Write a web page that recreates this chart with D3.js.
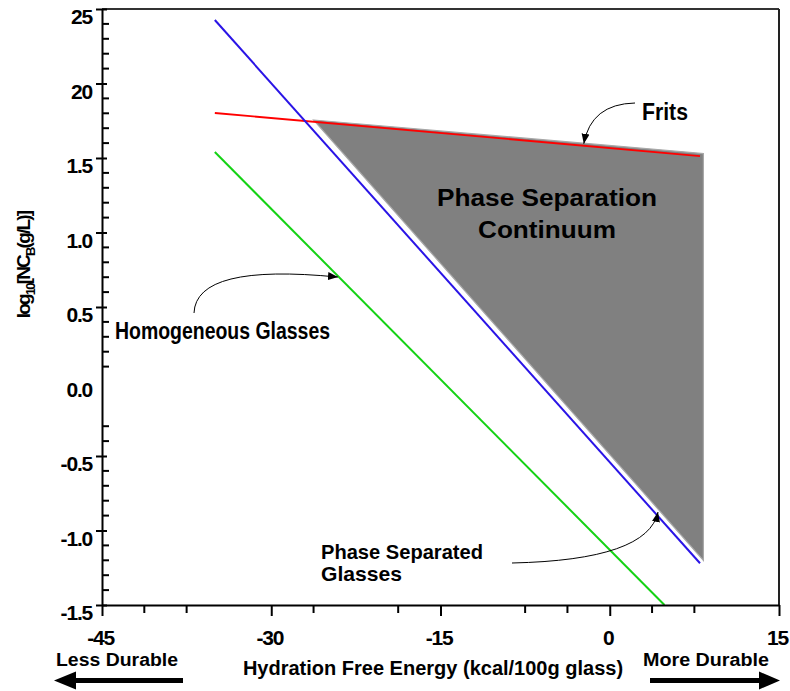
<!DOCTYPE html>
<html>
<head>
<meta charset="utf-8">
<script src="https://cdn.jsdelivr.net/npm/d3@7"></script>
<style>
  html, body { margin: 0; padding: 0; background: #fff; }
  svg { display: block; font-family: "Liberation Sans", Arial, sans-serif; }
</style>
</head>
<body>
<svg id="chart" width="790" height="691"></svg>
<script>
// ---------------- DATA ----------------
const xMajorTicks = [-45, -30, -15, 0, 15];
const xMajorLabels = ["-45", "-30", "-15", "0", "15"];
const xMinorTicks = [-41.25, -37.5, -26.25, -18.75, -7.5, -3.75, 3.75, 7.5];

const yMajorTicks = [2.5, 2.0, 1.5, 1.0, 0.5, 0.0, -0.5, -1.0, -1.5];
const yMajorLabels = ["25", "20", "1.5", "1.0", "0.5", "0.0", "-0.5", "-1.0", "-1.5"];
const yMajorNoMark = [0.0];
const yMinorTicks = [2.4, 2.3, 2.2, 2.1, 1.9, 1.8, 1.7, 1.6, 1.4, 1.3, 1.2, 1.1,
  0.9, 0.8, 0.7, 0.6, 0.4, 0.3, 0.2, 0.1, -0.3, -0.4, -0.6, -0.7, -0.8, -0.9,
  -1.1, -1.2, -1.3, -1.4];

// Phase separated boundary (blue)
const blueX = [-35, 8];
const blueY = [2.426, -1.22];
// Frits (red)
const redX = [-35, 8];
const redY = [1.802, 1.513];
// Homogeneous glasses (green)
const greenX = [-35, 4.85];
const greenY = [1.54, -1.5];
// Phase separation continuum (gray region)
const regionX = [-26.25, 8.3, 8.3];
const regionY = [1.755, 1.53, -1.2];

const xTitle = "Hydration Free Energy (kcal/100g glass)";

// ---------------- LAYOUT ----------------
const svg = d3.select("#chart");
const pL = 102, pR = 779, pT = 9, pB = 605;
const x = d3.scaleLinear().domain([-45, 15]).range([pL, pR]);
const y = d3.scaleLinear().domain([-1.5, 2.5]).range([pB, pT]);
const FONT = "'Liberation Sans', Arial, sans-serif";

const defs = svg.append("defs");
defs.append("marker").attr("id", "ah").attr("viewBox", "0 0 10 10")
  .attr("refX", 10).attr("refY", 5).attr("markerWidth", 10).attr("markerHeight", 10)
  .attr("markerUnits", "userSpaceOnUse").attr("orient", "auto")
  .append("path").attr("d", "M0,1 L10,5 L0,9 Z").attr("fill", "#000");

// gray region
const region = regionX.map((v, i) => [x(v), y(regionY[i])]);
svg.append("path")
  .attr("d", d3.line()(region) + "Z")
  .attr("fill", "#808080").attr("stroke", "#a8a8a8").attr("stroke-width", 1.2);

const lineGen = d3.line();
function drawLine(xs, ys, color, w) {
  svg.append("path")
    .attr("d", lineGen(xs.map((v, i) => [x(v), y(ys[i])])))
    .attr("fill", "none").attr("stroke", color).attr("stroke-width", w);
}
drawLine(greenX, greenY, "#14d214", 2);
drawLine(redX, redY, "#ff0000", 1.8);
drawLine(blueX, blueY, "#2a14e6", 2);

// frame
svg.append("line").attr("x1", pL).attr("x2", pR).attr("y1", pT).attr("y2", pT)
  .attr("stroke", "#333").attr("stroke-width", 2);
svg.append("line").attr("x1", pR).attr("x2", pR).attr("y1", pT).attr("y2", pB)
  .attr("stroke", "#222").attr("stroke-width", 2);

// x axis
const gx = svg.append("g").attr("transform", `translate(0,${pB})`)
  .call(d3.axisBottom(x).tickValues(xMajorTicks)
    .tickFormat((d, i) => xMajorLabels[i]).tickSize(11).tickSizeOuter(0));
gx.select(".domain").attr("stroke", "#000").attr("stroke-width", 2);
gx.selectAll(".tick line").attr("stroke", "#000").attr("stroke-width", 2);
gx.selectAll(".tick text").attr("y", 40).attr("dy", 0)
  .attr("font-family", FONT).attr("font-size", 21).attr("font-weight", "bold")
  .attr("letter-spacing", -1.2).attr("fill", "#000").attr("dx", -2);
svg.append("g").selectAll("line").data(xMinorTicks).join("line")
  .attr("x1", d => x(d)).attr("x2", d => x(d)).attr("y1", pB).attr("y2", pB + 8)
  .attr("stroke", "#000").attr("stroke-width", 2);

// y axis
const gy = svg.append("g").attr("transform", `translate(${pL},0)`)
  .call(d3.axisLeft(y).tickValues(yMajorTicks)
    .tickFormat((d, i) => yMajorLabels[i]).tickSize(6).tickSizeOuter(0));
gy.select(".domain").attr("stroke", "#000").attr("stroke-width", 2);
gy.selectAll(".tick line").attr("x1", -6).attr("x2", 5)
  .attr("stroke", "#000").attr("stroke-width", 2)
  .attr("display", d => yMajorNoMark.includes(d) ? "none" : null);
gy.selectAll(".tick text").attr("x", -10).attr("dy", 14.5)
  .attr("font-family", FONT).attr("font-size", 21).attr("font-weight", "bold")
  .attr("letter-spacing", -1.2).attr("fill", "#000");
svg.append("g").selectAll("line").data(yMinorTicks).join("line")
  .attr("x1", pL).attr("x2", pL + 7).attr("y1", d => y(d)).attr("y2", d => y(d))
  .attr("stroke", "#000").attr("stroke-width", 2);

// axis titles
svg.append("text").attr("x", 433).attr("y", 675).attr("text-anchor", "middle")
  .attr("font-size", 20).attr("font-weight", "bold").attr("font-family", FONT)
  .text(xTitle);

const yt = svg.append("text").attr("transform", "translate(30,265) rotate(-90)")
  .attr("text-anchor", "middle").attr("font-size", 19).attr("font-weight", "bold")
  .attr("font-family", FONT).attr("letter-spacing", -1.8);
yt.append("tspan").text("log");
yt.append("tspan").attr("font-size", 13).attr("dy", 5).text("10");
yt.append("tspan").attr("dy", -5).text("[NC");
yt.append("tspan").attr("font-size", 13).attr("dy", 5).text("B");
yt.append("tspan").attr("dy", -5).text("(g/L)]");

// durability labels and arrows
svg.append("text").attr("x", 56).attr("y", 666).attr("font-size", 18).attr("font-weight", "bold")
  .attr("font-family", FONT).attr("textLength", 122).attr("lengthAdjust", "spacingAndGlyphs")
  .text("Less Durable");
svg.append("text").attr("x", 643).attr("y", 666).attr("font-size", 18).attr("font-weight", "bold")
  .attr("font-family", FONT).attr("textLength", 126).attr("lengthAdjust", "spacingAndGlyphs")
  .text("More Durable");
svg.append("line").attr("x1", 183).attr("x2", 70).attr("y1", 680.5).attr("y2", 680.5)
  .attr("stroke", "#000").attr("stroke-width", 5);
svg.append("path").attr("d", "M54,680.5 L76,671.5 L76,689.5 Z").attr("fill", "#000");
svg.append("line").attr("x1", 650).attr("x2", 765).attr("y1", 680.5).attr("y2", 680.5)
  .attr("stroke", "#000").attr("stroke-width", 5);
svg.append("path").attr("d", "M780,680.5 L759,671.5 L759,689.5 Z").attr("fill", "#000");

// region labels
function label(txt, x0, y0, size, len, anchor) {
  return svg.append("text").attr("x", x0).attr("y", y0).attr("font-size", size)
    .attr("font-weight", "bold").attr("font-family", FONT)
    .attr("text-anchor", anchor || "start")
    .attr("textLength", len).attr("lengthAdjust", "spacingAndGlyphs").text(txt);
}
label("Phase Separation", 437, 206, 23, 220);
label("Continuum", 478, 238, 23, 138);
label("Frits", 642, 120, 23, 46);
label("Homogeneous Glasses", 115, 339, 23, 215);
label("Phase Separated", 321, 559, 21, 162);
label("Glasses", 321, 581, 21, 81);

// annotation arrows (curved)
function curve(p0, c, p1) {
  const p = d3.path();
  p.moveTo(p0[0], p0[1]);
  p.quadraticCurveTo(c[0], c[1], p1[0], p1[1]);
  svg.append("path").attr("d", p.toString()).attr("fill", "none")
    .attr("stroke", "#000").attr("stroke-width", 1).attr("marker-end", "url(#ah)");
}
// Frits -> red line
const fx = -2.3;
const fyRed = redY[0] + (redY[1] - redY[0]) * (fx - redX[0]) / (redX[1] - redX[0]);
curve([635, 103], [591, 104], [x(fx), y(fyRed) - 2]);
// Homogeneous -> green line
const hx = -24;
const hyG = greenY[0] + (greenY[1] - greenY[0]) * (hx - greenX[0]) / (greenX[1] - greenX[0]);
curve([194, 313], [196, 263], [x(hx) - 1, y(hyG)]);
// Phase separated -> blue line
const px = 4.1;
const pyB = blueY[0] + (blueY[1] - blueY[0]) * (px - blueX[0]) / (blueX[1] - blueX[0]);
curve([512, 563], [648, 560], [x(px) + 2, y(pyB) - 2]);
</script>
</body>
</html>
